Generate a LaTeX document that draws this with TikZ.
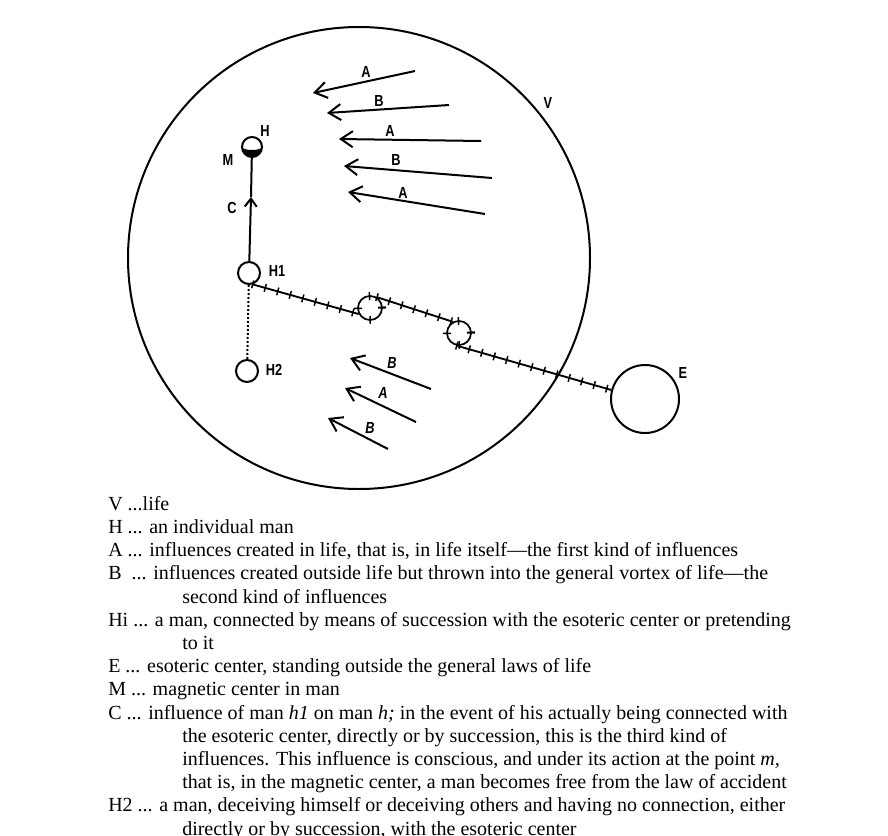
\documentclass[tikz,border=0pt]{standalone}
\usepackage{fontspec}
\setmainfont{Liberation Serif}
\newfontfamily\lblfont[FakeStretch=0.8]{Liberation Sans}
\usetikzlibrary{arrows.meta,decorations.pathreplacing}
\newcommand{\hang}{\hspace*{55.5pt}}

\begin{document}
\begin{tikzpicture}[x=0.75pt,y=-0.75pt,
    ring/.style={line width=1.5pt},
    man/.style={circle,draw,line width=1.5pt,minimum size=16.5pt,inner sep=0pt},
    relay/.style={circle,draw,line width=1.3pt,minimum size=18pt,inner sep=0pt},
    lbl/.style={font=\lblfont\bfseries\fontsize{12}{13}\selectfont,inner sep=0pt},
    chain/.style={line width=1.4pt},
    hatched/.style={line width=1.1pt,decorate,decoration={ticks,segment length=9.75pt,amplitude=3pt}},
    infl/.style={-{Straight Barb[length=9pt,width=12pt]},line width=1.5pt}]
\useasboundingbox (0,0) rectangle (888,835);
% life
\coordinate (life) at (359,258);
\draw[ring] (life) circle[radius=231];
\node[lbl] (Vl) at (548,103) {V};
% man H with magnetic center M
\node[man,minimum size=15pt] (H) at (252,147) {};
\fill ([xshift=-7.5pt]H.center) arc[start angle=180,end angle=0,radius=10]
  arc[start angle=0,end angle=180,x radius=10,y radius=3];
\node[lbl] (Hl) at (265,131) {H};
\node[lbl] (Ml) at (228,160) {M};
% H1, H2
\node[man] (H1) at (249,273) {};
\node[lbl] (H1l) at (277,271) {H1};
\node[man] (H2) at (247,371) {};
\node[lbl] (H2l) at (274,370) {H2};
\coordinate (Ctip) at (251,197);
\node[lbl] (Cl) at (232,208) {C};
\draw[infl,-{Straight Barb[length=6pt,width=9pt]}] (H1) -- (Ctip);
\draw[line width=1.5pt] (Ctip) -- (H);
\draw[line width=1.5pt,dash pattern=on 1.5pt off 1.5pt] (H1) -- (H2);
% succession to the esoteric center
\node[relay] (c1) at (370,308) {};
\node[relay] (c2) at (459,333) {};
\draw[hatched,decoration={segment length=14pt}] (c1) circle[radius=12];
\draw[hatched,decoration={segment length=14pt}] (c2) circle[radius=12];
\node[man,minimum size=51pt] (E) at (645,399) {};
\node[lbl] (El) at (683,373) {E};
\draw[chain] (H1.-72) -- (c1.208);
\draw[chain] (c1.57) -- (c2.119);
\draw[chain] (c2.260) -- (E.165);
\draw[hatched] (H1.-72) -- (c1.208);
\draw[hatched] (c1.57) -- (c2.119);
\draw[hatched] (c2.260) -- (E.165);
% influences A and B
\foreach \n/\tx/\ty/\hx/\hy/\lx/\ly/\l in {
    a1/415/71/313/93/366/72/A, b1/449/105/327/113/379/101/B,
    a2/481/141/339/139/390/131/A, b2/492/178/344/166/396/160/B,
    a3/485/214/348/192/403/193/A} {
  \coordinate (\n t) at (\tx,\ty);
  \coordinate (\n h) at (\hx,\hy);
  \draw[infl] (\n t) -- (\n h);
  \node[lbl] (\n l) at (\lx,\ly) {\l};
}
\foreach \n/\tx/\ty/\hx/\hy/\lx/\ly/\l in {
    b3/431/389/350/358/392/363/B, a4/416/422/345/388/383/393/A,
    b4/388/449/328/418/370/428/B} {
  \coordinate (\n t) at (\tx,\ty);
  \coordinate (\n h) at (\hx,\hy);
  \draw[infl] (\n t) -- (\n h);
  \node[lbl,font=\lblfont\bfseries\itshape\fontsize{12}{13}\selectfont] (\n l) at (\lx,\ly) {\l};
}
% key
\node[font=\fontsize{15}{17.4}\selectfont,align=left,anchor=north west,inner sep=0pt] (key) at (108,496)
  {V ...life\\
   H ... an individual man\\
   A ... influences created in life, that is, in life itself—the first kind of influences\\
   B\ \ ... influences created outside life but thrown into the general vortex of life—the\\
   \hang second kind of influences\\
   Hi ... a man, connected by means of succession with the esoteric center or pretending\\
   \hang to it\\
   E ... esoteric center, standing outside the general laws of life\\
   M ... magnetic center in man\\
   C ... influence of man \textit{h1} on man \textit{h;} in the event of his actually being connected with\\
   \hang the esoteric center, directly or by succession, this is the third kind of\\
   \hang influences. This influence is conscious, and under its action at the point \textit{m,}\\
   \hang that is, in the magnetic center, a man becomes free from the law of accident\\
   H2 ... a man, deceiving himself or deceiving others and having no connection, either\\
   \hang directly or by succession, with the esoteric center};
\end{tikzpicture}
\end{document}
